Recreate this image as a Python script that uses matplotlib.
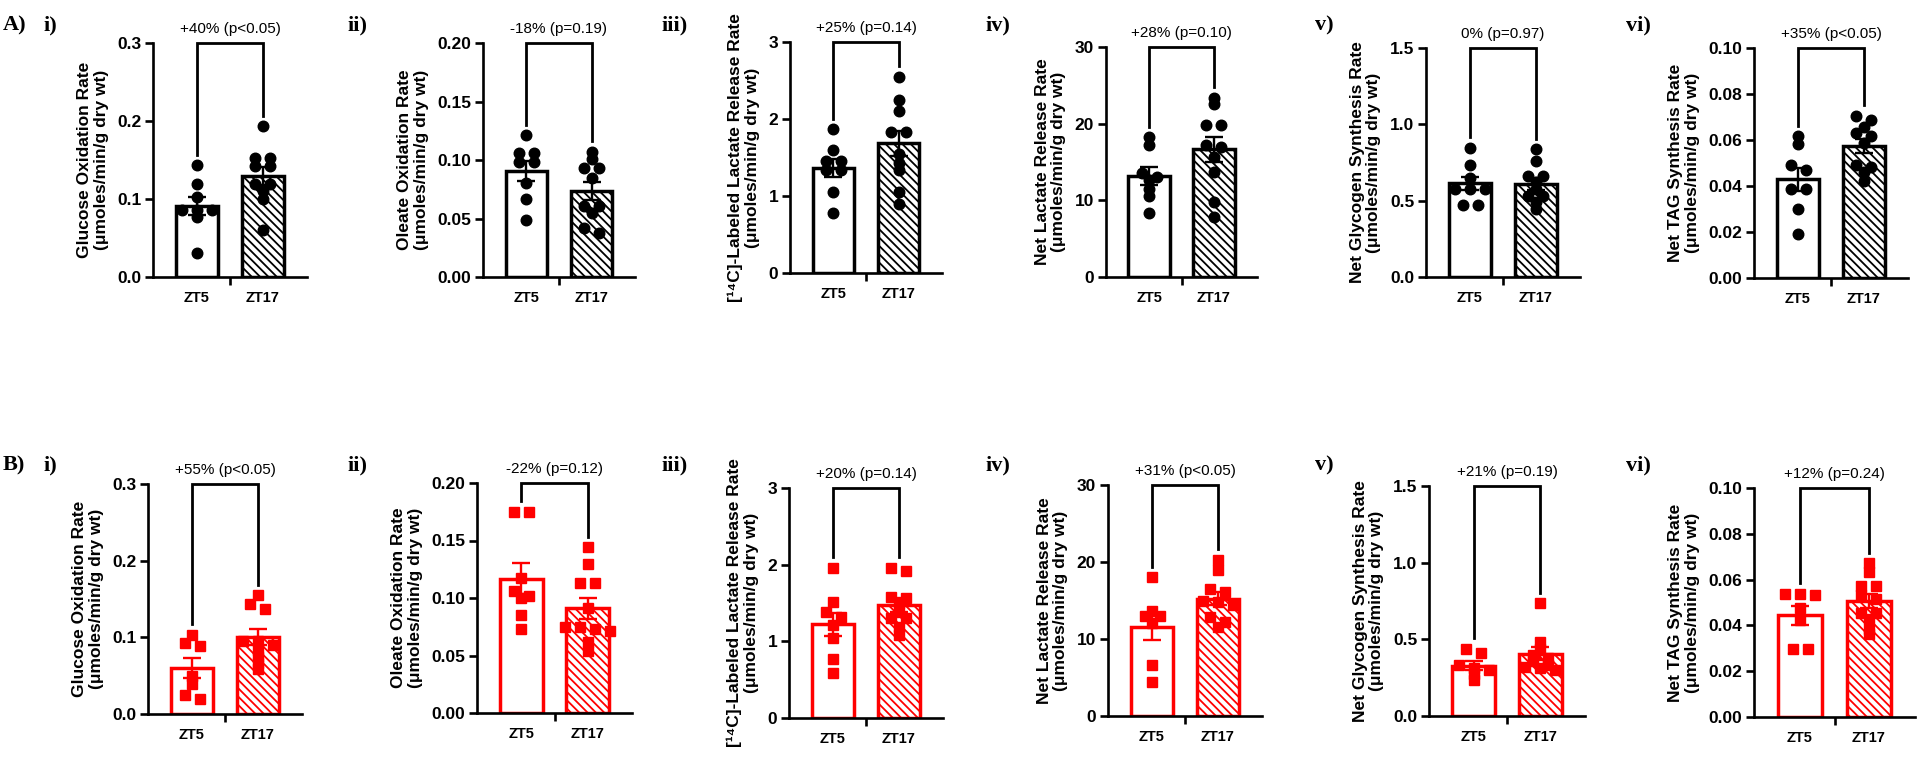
import numpy as np
import matplotlib.pyplot as plt

plt.rcParams['font.family'] = ['Liberation Sans', 'DejaVu Sans']
plt.rcParams['hatch.linewidth'] = 1.3

groups = ['ZT5', 'ZT17']
panel_ids = ['i)', 'ii)', 'iii)', 'iv)', 'v)', 'vi)']
ylabels = ['Glucose Oxidation Rate', 'Oleate Oxidation Rate',
           '[¹⁴C]-Labeled Lactate Release Rate', 'Net Lactate Release Rate',
           'Net Glycogen Synthesis Rate', 'Net TAG Synthesis Rate']
unit = '(μmoles/min/g dry wt)'
ymax = [0.3, 0.20, 3, 30, 1.5, 0.10]
ystep = [0.1, 0.05, 1, 10, 0.5, 0.02]
ydec = [1, 2, 0, 0, 1, 2]

# row A (black)
a_zt5 = [
    [0.143, 0.119, 0.103, 0.086, 0.086, 0.086, 0.077, 0.031],
    [0.121, 0.106, 0.106, 0.098, 0.098, 0.080, 0.067, 0.049],
    [1.87, 1.60, 1.45, 1.45, 1.34, 1.34, 1.05, 0.78],
    [18.2, 17.2, 13.6, 13.0, 12.6, 11.5, 10.6, 8.3],
    [0.848, 0.735, 0.648, 0.574, 0.574, 0.574, 0.474, 0.474],
    [0.0618, 0.0583, 0.0491, 0.047, 0.0385, 0.0385, 0.0302, 0.0193],
]
a_zt17 = [
    [0.193, 0.153, 0.153, 0.142, 0.142, 0.119, 0.119, 0.110, 0.100, 0.060],
    [0.107, 0.101, 0.093, 0.093, 0.085, 0.061, 0.061, 0.055, 0.042, 0.038],
    [2.55, 2.25, 2.10, 1.83, 1.83, 1.55, 1.43, 1.34, 1.05, 0.89],
    [23.4, 22.6, 19.8, 19.8, 17.2, 17.0, 15.6, 13.7, 9.8, 7.8],
    [0.837, 0.757, 0.659, 0.659, 0.62, 0.576, 0.533, 0.533, 0.489, 0.446],
    [0.0706, 0.0685, 0.0658, 0.063, 0.0616, 0.0586, 0.0491, 0.0484, 0.0462, 0.0422],
]
a_text = ['+40% (p<0.05)', '-18% (p=0.19)', '+25% (p=0.14)',
          '+28% (p=0.10)', '0% (p=0.97)', '+35% (p<0.05)']

# row B (red)
b_zt5 = [
    [0.1035, 0.0926, 0.0883, 0.050, 0.039, 0.025, 0.019],
    [0.175, 0.175, 0.117, 0.106, 0.102, 0.100, 0.085, 0.073],
    [1.96, 1.51, 1.38, 1.32, 1.21, 1.05, 0.77, 0.59],
    [18.0, 13.7, 13.0, 13.0, 12.1, 6.6, 4.4],
    [0.439, 0.413, 0.33, 0.31, 0.30, 0.272, 0.233],
    [0.0539, 0.0539, 0.0531, 0.0476, 0.0425, 0.0298, 0.0298],
]
b_zt17 = [
    [0.155, 0.143, 0.137, 0.095, 0.095, 0.090, 0.084, 0.075, 0.067, 0.059],
    [0.144, 0.130, 0.113, 0.113, 0.091, 0.075, 0.075, 0.073, 0.071, 0.062, 0.054],
    [1.96, 1.92, 1.58, 1.57, 1.50, 1.38, 1.30, 1.30, 1.19, 1.08],
    [20.3, 18.9, 16.5, 16.1, 14.9, 14.8, 14.4, 12.8, 12.2, 11.6],
    [0.737, 0.48, 0.44, 0.40, 0.38, 0.36, 0.33, 0.32, 0.31, 0.30],
    [0.0672, 0.0633, 0.0572, 0.0572, 0.0534, 0.0517, 0.0454, 0.0454, 0.0426, 0.0386, 0.0364],
]
b_text = ['+55% (p<0.05)', '-22% (p=0.12)', '+20% (p=0.14)',
          '+31% (p<0.05)', '+21% (p=0.19)', '+12% (p=0.24)']

W, H = 1920, 761
# axes boxes in pixels: left, top, right, bottom
a_boxes = [(153, 43, 307, 277), (483, 43, 635, 277), (790, 42, 942, 273),
           (1106, 47, 1257, 277), (1426, 48, 1580, 277), (1754, 48, 1908, 278)]
b_boxes = [(148, 484, 302, 714), (477, 483, 632, 713), (789, 488, 943, 718),
           (1108, 485, 1262, 716), (1429, 486, 1585, 716), (1754, 488, 1915, 717)]
label_x = [43, 347, 662, 986, 1315, 1626]

fig = plt.figure(figsize=(W / 100, H / 100), dpi=100)


def swarm(vals, h_px, top, d_px, unit_px):
    vals = np.asarray(vals, dtype=float)
    ypx = vals / top * h_px
    order = np.argsort(-vals)
    off = np.zeros(len(vals))
    rows, cur = [], [order[0]]
    for i in order[1:]:
        if ypx[cur[0]] - ypx[i] < 0.5 * d_px:
            cur.append(i)
        else:
            rows.append(cur)
            cur = [i]
    rows.append(cur)
    for r in rows:
        k = len(r)
        for j, i in enumerate(r):
            off[i] = (j - (k - 1) / 2) * d_px * 1.5 / unit_px
    return off


def panel(box, k, v5, v17, txt, color, marker):
    l, t, r, b = box
    ax = fig.add_axes([l / W, 1 - b / H, (r - l) / W, (b - t) / H])
    top = ymax[k]
    ax.set_xlim(-0.667, 1.667)
    ax.set_ylim(0, top)
    unit_px = (r - l) / 2.334
    for x, vals in enumerate([v5, v17]):
        vals = np.asarray(vals)
        m = vals.mean()
        sem = vals.std(ddof=1) / np.sqrt(len(vals))
        ax.bar(x, m, width=0.64, facecolor='white', edgecolor=color,
               linewidth=2.5, hatch='\\\\\\\\' if x == 1 else None, zorder=2)
        off = swarm(vals, b - t, top, 10, unit_px)
        ax.plot(x + off, vals, linestyle='none', marker=marker, ms=7.6,
                color=color, mec=color, zorder=3, clip_on=False)
        ax.errorbar(x, m, yerr=sem, fmt='none', ecolor=color, elinewidth=1.7,
                    capsize=6.5, capthick=1.7, zorder=4)
    y0 = max(v5) + 0.045 * top
    y1 = max(v17) + 0.045 * top
    ax.plot([0, 0, 1, 1], [y0, top, top, y1], color='black', lw=2.0,
            clip_on=False, zorder=5, solid_joinstyle='miter')
    ax.annotate(txt, xy=(0.5, top), xytext=(0, 5), textcoords='offset points',
                ha='center', va='bottom', fontsize=11)

    for s in ['top', 'right']:
        ax.spines[s].set_visible(False)
    for s in ['left', 'bottom']:
        ax.spines[s].set_linewidth(1.9)
    ticks = np.arange(0, top + ystep[k] / 2, ystep[k])
    ax.set_yticks(ticks)
    ax.set_yticklabels([f'{v:.{ydec[k]}f}' for v in ticks],
                       fontsize=12.5, fontweight='bold')
    ax.tick_params(axis='y', length=5.5, width=1.9, pad=3)
    ax.set_xticks([0, 1])
    ax.set_xticklabels(groups, fontsize=10.5, fontweight='bold')
    ax.tick_params(axis='x', which='major', length=0, pad=10)
    ax.set_xticks([0.5], minor=True)
    ax.tick_params(axis='x', which='minor', length=6, width=1.9, direction='out')
    ax.set_ylabel(ylabels[k] + '\n' + unit, fontsize=12.5, fontweight='bold',
                  labelpad=6, linespacing=1.15)
    return ax


for k in range(6):
    panel(a_boxes[k], k, a_zt5[k], a_zt17[k], a_text[k], 'black', 'o')
    panel(b_boxes[k], k, b_zt5[k], b_zt17[k], b_text[k], '#ff0000', 's')
    fig.text(label_x[k] / W, 1 - 25 / H, panel_ids[k], family='Liberation Serif',
             fontweight='bold', fontsize=16, va='center', ha='left')
    fig.text(label_x[k] / W, 1 - 465 / H, panel_ids[k], family='Liberation Serif',
             fontweight='bold', fontsize=16, va='center', ha='left')

fig.text(3 / W, 1 - 25 / H, 'A)', family='Liberation Serif', fontweight='bold',
         fontsize=16, va='center', ha='left')
fig.text(3 / W, 1 - 465 / H, 'B)', family='Liberation Serif', fontweight='bold',
         fontsize=16, va='center', ha='left')

fig.savefig('out.png', dpi=100)
